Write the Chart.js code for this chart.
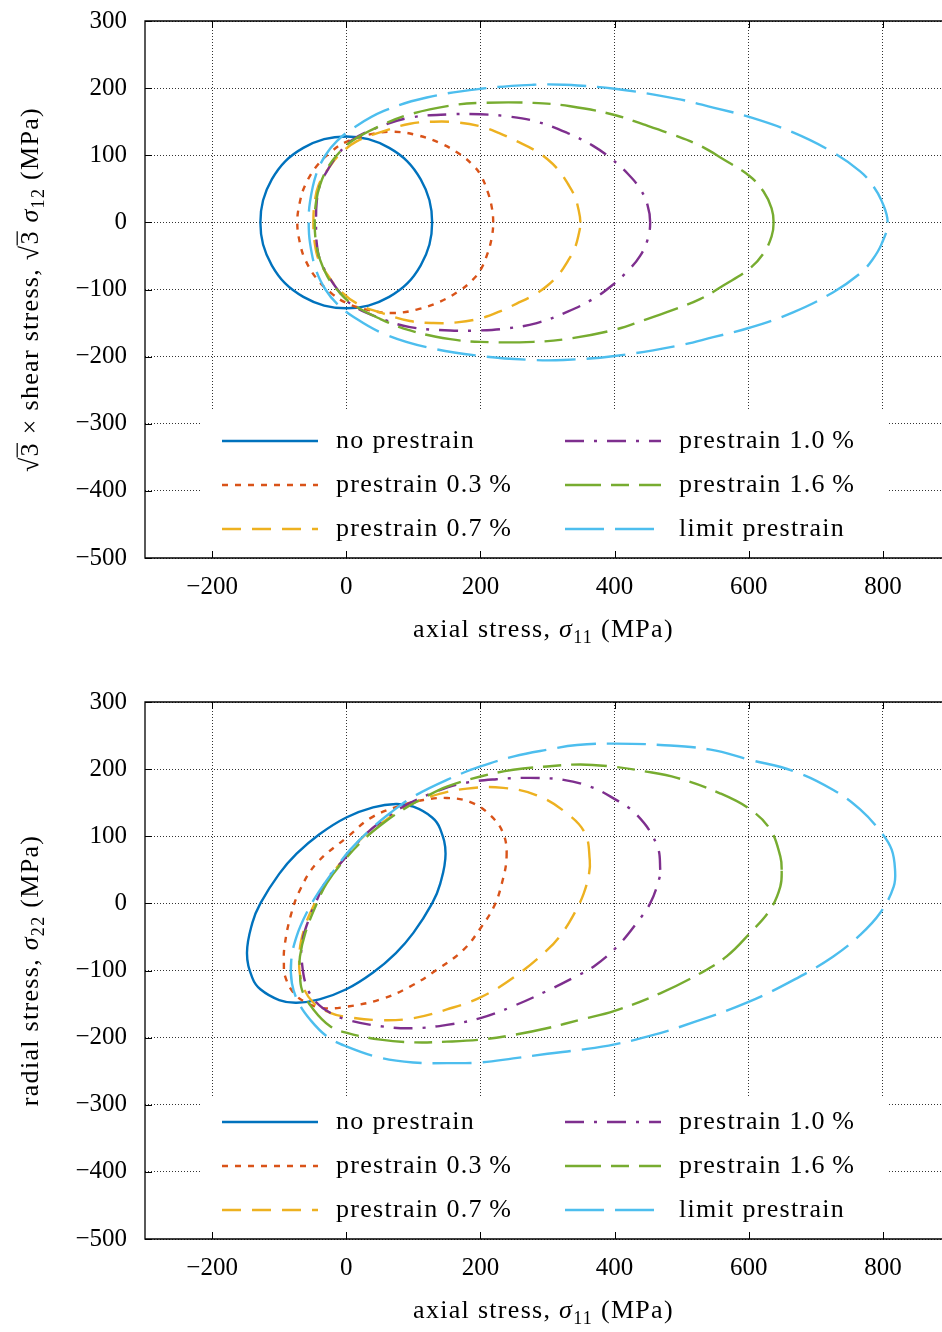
<!DOCTYPE html>
<html>
<head>
<meta charset="utf-8">
<script src="https://cdn.jsdelivr.net/npm/chart.js@4.4.1/dist/chart.umd.min.js"></script>
<style>
  html, body { margin: 0; padding: 0; background: #fff; }
  .plot { width: 942px; height: 666px; }
  canvas { display: block; }
</style>
</head>
<body>
<div class="plot"><canvas id="shear" width="942" height="666"></canvas></div>
<div class="plot"><canvas id="radial" width="942" height="666"></canvas></div>
<script>
const xTicks = [-200, 0, 200, 400, 600, 800];
const yTicks = [-500, -400, -300, -200, -100, 0, 100, 200, 300];

const seriesNames = ['no prestrain', 'prestrain 0.3\u2009%', 'prestrain 0.7\u2009%',
                     'prestrain 1.0\u2009%', 'prestrain 1.6\u2009%', 'limit prestrain'];
const seriesColors = ['#0072BD', '#D95319', '#EDB120', '#7E2F8E', '#77AC30', '#4DBEEE'];
const seriesDashes = [[], [6, 7], [19, 11], [19, 10, 3, 10], [36, 10, 18, 10], [39, 11]];

// yield surfaces in the sigma11 / sqrt(3) sigma12 plane, [sigma11, sqrt3*sigma12] in MPa
const shearNone = [[128,0],[124,33],[111,64],[91,91],[64,111],[33,124],[0,128],[-33,124],[-64,111],
  [-91,91],[-111,64],[-124,33],[-128,0],[-124,-33],[-111,-64],[-91,-91],[-64,-111],[-33,-124],[0,-128],
  [33,-124],[64,-111],[91,-91],[111,-64],[124,-33]];
const shearP03 = [[219,0],[217,22],[211,45],[200,71],[188,86],[170,101],[140,118],[105,130],[70,135],
  [35,131],[0,120],[-24,104],[-44,84],[-61,56],[-69,31],[-73,0],[-69,-31],[-61,-56],[-44,-84],[-24,-104],
  [0,-120],[35,-131],[70,-135],[105,-130],[140,-118],[170,-101],[188,-86],[200,-71],[211,-45],[217,-22]];
const shearP07 = [[349,0],[346,20],[340,40],[330,58],[318,76],[300,94],[280,108],[254,121],[228,133],
  [200,143],[165,149],[130,150],[95,147],[56,136],[16,121],[-11,100],[-26,81],[-41,56],[-47,31],[-49,0],
  [-47,-31],[-41,-56],[-26,-81],[-11,-100],[16,-121],[56,-136],[95,-147],[130,-150],[165,-149],[200,-143],
  [228,-133],[254,-121],[280,-108],[300,-94],[318,-76],[330,-58],[340,-40],[346,-20]];
const shearP10 = [[453,0],[449,26],[438,50],[420,72],[396,94],[368,114],[330,133],[284,150],[240,158],
  [200,161],[155,161],[95,156],[46,141],[6,121],[-13,100],[-26,81],[-39,56],[-44,31],[-45,0],
  [-44,-31],[-39,-56],[-26,-81],[-13,-100],[6,-121],[46,-141],[95,-156],[155,-161],[200,-161],[240,-158],
  [284,-150],[330,-133],[368,-114],[396,-94],[420,-72],[438,-50],[449,-26]];
const shearP16 = [[637,0],[634,21],[622,46],[601,69],[562,94],[528,114],[483,132],[443,146],[400,160],
  [334,173],[279,178],[200,178],[155,174],[95,161],[51,144],[8,121],[-14,100],[-28,81],[-39,56],[-45,31],
  [-47,0],[-45,-31],[-39,-56],[-28,-81],[-14,-100],[8,-121],[51,-144],[95,-161],[155,-174],[200,-178],
  [279,-178],[334,-173],[400,-160],[443,-146],[483,-132],[528,-114],[562,-94],[601,-69],[622,-46],[634,-21]];
const shearLimit = [[807,0],[798,32],[784,56],[766,76],[726,104],[666,134],[601,157],[547,171],[493,184],
  [400,199],[324,205],[279,205],[200,199],[120,186],[56,166],[11,141],[-14,121],[-31,100],[-45,71],[-54,31],
  [-56,0],[-54,-31],[-45,-71],[-31,-100],[-14,-121],[11,-141],[56,-166],[120,-186],[200,-199],[279,-205],
  [324,-205],[400,-199],[493,-184],[547,-171],[601,-157],[666,-134],[726,-104],[766,-76],[784,-56],[798,-32]];

// yield surfaces in the sigma11 / sigma22 plane, [sigma11, sigma22] in MPa
const radialNone = [[128,0],[140,29],[148,74],[140,111],[128,128],[100,144],[74,148],[40,143],[0,128],
  [-40,103],[-74,74],[-100,44],[-128,0],[-140,-29],[-148,-74],[-140,-111],[-128,-128],[-100,-144],
  [-74,-148],[-40,-143],[0,-128],[40,-103],[74,-74],[100,-44]];
const radialP03 = [[239,70],[234,104],[215,131],[185,151],[150,157],[115,154],[76,144],[36,127],[3,100],
  [-44,60],[-69,20],[-83,-19],[-92,-64],[-93,-89],[-91,-109],[-78,-134],[-59,-148],[-34,-156],[0,-154],
  [51,-143],[95,-124],[135,-99],[175,-69],[200,-37],[220,-5],[232,30]];
const radialP07 = [[363,64],[356,104],[329,134],[284,161],[234,172],[180,171],[125,159],[85,142],[56,122],
  [26,100],[0,70],[-24,40],[-47,0],[-63,-39],[-70,-79],[-66,-119],[-49,-148],[-24,-163],[0,-169],[51,-174],
  [100,-171],[150,-158],[200,-140],[250,-110],[300,-69],[322,-44],[340,-15],[354,15],[362,45]];
const radialP10 = [[468,50],[463,87],[433,132],[394,159],[363,174],[324,184],[274,187],[224,185],[175,179],
  [135,167],[90,147],[56,125],[26,100],[-4,65],[-29,35],[-46,0],[-56,-24],[-66,-59],[-66,-89],[-59,-124],
  [-44,-148],[-24,-163],[0,-173],[51,-183],[100,-186],[150,-181],[200,-171],[249,-153],[300,-130],[340,-110],
  [369,-94],[404,-64],[433,-29],[453,0],[466,35]];
const radialP16 = [[649,50],[647,70],[632,110],[602,140],[557,164],[493,187],[443,197],[394,204],[349,207],
  [299,204],[249,199],[200,189],[150,174],[115,157],[85,140],[56,120],[26,95],[-4,63],[-29,30],[-46,-5],
  [-61,-44],[-69,-79],[-69,-100],[-66,-129],[-49,-158],[-24,-183],[1,-193],[51,-203],[100,-207],[150,-206],
  [200,-203],[249,-196],[299,-186],[350,-173],[400,-160],[468,-134],[528,-104],[567,-79],[602,-44],[632,-9],
  [647,25]];
const radialLimit = [[818,50],[813,80],[798,105],[766,140],[726,169],[667,197],[601,214],[543,229],[468,236],
  [400,238],[344,236],[300,229],[250,219],[200,204],[150,184],[100,159],[66,135],[36,110],[6,80],[-14,55],
  [-39,20],[-59,-14],[-74,-49],[-82,-85],[-81,-119],[-71,-148],[-54,-173],[-29,-198],[0,-213],[51,-230],
  [100,-237],[150,-238],[200,-237],[249,-231],[300,-224],[350,-218],[400,-210],[458,-196],[518,-177],
  [597,-148],[667,-114],[726,-79],[766,-47],[796,-14],[816,25]];

// axis titles as [text, style] runs: r roman, i italic, s subscript, v digit under a radical bar
const xTitle = [['axial stress, ', 'r'], ['\u03C3', 'i'], ['11', 's'], [' (MPa)', 'r']];
const shearTitle = [['\u221A', 'r'], ['3', 'v'], [' \u00D7 shear stress, ', 'r'], ['\u221A', 'r'], ['3', 'v'],
  [' ', 'r'], ['\u03C3', 'i'], ['12', 's'], [' (MPa)', 'r']];
const radialTitle = [['radial stress, ', 'r'], ['\u03C3', 'i'], ['22', 's'], [' (MPa)', 'r']];

const SERIF = '"Liberation Serif", "DejaVu Serif", serif';

function drawRich(ctx, parts, cx, baseline, size) {
  const fontOf = st => (st === 'i' ? 'italic ' : '') + (st === 's' ? Math.round(size * 0.7) : size) + 'px ' + SERIF;
  ctx.letterSpacing = '1.3px';
  const widths = parts.map(([t, st]) => { ctx.font = fontOf(st); return ctx.measureText(t).width; });
  let x = cx - widths.reduce((a, b) => a + b, 0) / 2;
  ctx.fillStyle = '#000';
  ctx.textBaseline = 'alphabetic';
  ctx.textAlign = 'left';
  parts.forEach(([t, st], k) => {
    ctx.font = fontOf(st);
    ctx.fillText(t, x, baseline + (st === 's' ? size * 0.22 : 0));
    if (st === 'v') {
      ctx.lineWidth = 1.2;
      ctx.strokeStyle = '#000';
      ctx.beginPath();
      ctx.moveTo(x - 1, baseline - size * 0.8);
      ctx.lineTo(x + widths[k] - 1, baseline - size * 0.8);
      ctx.stroke();
    }
    x += widths[k];
  });
  ctx.letterSpacing = '0px';
}

// every curve is a closed contour: let the line element wrap around
const closedCurves = {
  id: 'closedCurves',
  afterDatasetUpdate(chart, { meta }) {
    const line = meta.dataset;
    if (!line) return;
    line._loop = true;
    line._fullLoop = true;
    line.points = meta.data;
  }
};

const framePlugin = {
  id: 'frame',
  afterDatasetsDraw(chart, args, opts) {
    const { ctx, chartArea: a } = chart;
    ctx.save();
    // legend panel sits inside the axes and hides the grid below it
    ctx.fillStyle = '#fff';
    ctx.fillRect(202, a.top + opts.legendTop, 889 - 202, a.bottom - a.top - opts.legendTop);
    chart.data.datasets.forEach((ds, i) => {
      const x0 = i < 3 ? 222 : 565;
      const y = a.top + 420 + (i % 3) * 44;
      ctx.strokeStyle = ds.borderColor;
      ctx.lineWidth = 2.6;
      ctx.lineCap = 'butt';
      ctx.setLineDash(ds.borderDash);
      ctx.beginPath();
      ctx.moveTo(x0, y);
      ctx.lineTo(x0 + 96, y);
      ctx.stroke();
      ctx.setLineDash([]);
      ctx.fillStyle = '#000';
      ctx.font = '26px ' + SERIF;
      ctx.letterSpacing = '1.3px';
      ctx.textBaseline = 'alphabetic';
      ctx.fillText(ds.label, x0 + 114, y + 7);
      ctx.letterSpacing = '0px';
    });
    // box and inward tick marks
    ctx.strokeStyle = '#000';
    ctx.lineWidth = 1.3;
    ctx.beginPath();
    ctx.moveTo(a.right + 2, a.top);
    ctx.lineTo(a.left, a.top);
    ctx.lineTo(a.left, a.bottom);
    ctx.lineTo(a.right + 2, a.bottom);
    ctx.stroke();
    ctx.lineWidth = 1;
    ctx.beginPath();
    xTicks.forEach(v => {
      const px = Math.round(chart.scales.x.getPixelForValue(v)) + 0.5;
      ctx.moveTo(px, a.top); ctx.lineTo(px, a.top + 7);
      ctx.moveTo(px, a.bottom); ctx.lineTo(px, a.bottom - 7);
    });
    yTicks.forEach(v => {
      const py = Math.round(chart.scales.y.getPixelForValue(v)) + 0.5;
      ctx.moveTo(a.left, py); ctx.lineTo(a.left + 7, py);
    });
    ctx.stroke();
    ctx.restore();
  },
  afterDraw(chart, args, opts) {
    const { ctx, chartArea: a } = chart;
    ctx.save();
    drawRich(ctx, xTitle, (a.left + a.right) / 2, a.bottom + 79, 26);
    ctx.translate(38, (a.top + a.bottom) / 2);
    ctx.rotate(-Math.PI / 2);
    drawRich(ctx, opts.yTitle, 0, 0, 26);
    ctx.restore();
  }
};

const minus = v => (v < 0 ? '\u2212' + Math.abs(v) : String(v));

function sectionChart(canvas, curves, layout) {
  const datasets = curves.map((pts, i) => ({
    label: seriesNames[i],
    data: pts.map(([x, y]) => ({ x, y })),
    borderColor: seriesColors[i],
    borderDash: seriesDashes[i],
    borderWidth: 2.4,
    pointRadius: 0,
    tension: 0.4,
    fill: false,
    order: -i,
  }));

  const tickFont = { family: SERIF, size: 25 };
  return new Chart(canvas, {
    type: 'line',
    data: { datasets },
    plugins: [closedCurves, framePlugin],
    options: {
      responsive: false,
      animation: false,
      devicePixelRatio: 1,
      layout: { padding: { top: layout.top, left: 0, right: 0, bottom: 0 } },
      plugins: {
        legend: { display: false },
        tooltip: { enabled: false },
        frame: { legendTop: layout.legendTop, yTitle: layout.yTitle },
      },
      scales: {
        x: {
          type: 'linear',
          min: -300,
          max: 888,
          afterBuildTicks: s => { s.ticks = xTicks.map(value => ({ value })); },
          afterFit: s => { s.height = layout.xHeight; s.paddingLeft = 0; s.paddingRight = 0; },
          ticks: { font: tickFont, color: '#000', padding: 14, maxRotation: 0, autoSkip: false, callback: minus },
          grid: { color: '#333', lineWidth: 1, drawTicks: false },
          border: { display: false, dash: [1, 2] },
        },
        y: {
          type: 'linear',
          min: -500,
          max: 300,
          afterBuildTicks: s => { s.ticks = yTicks.map(value => ({ value })); },
          afterFit: s => { s.width = 145; s.paddingTop = 0; s.paddingBottom = 0; },
          ticks: { font: tickFont, color: '#000', padding: 18, autoSkip: false, callback: minus },
          grid: { color: '#333', lineWidth: 1, drawTicks: false },
          border: { display: false, dash: [1, 2] },
        },
      },
    },
  });
}

sectionChart(document.getElementById('shear'),
  [shearNone, shearP03, shearP07, shearP10, shearP16, shearLimit],
  { top: 21, xHeight: 108, legendTop: 389, yTitle: shearTitle });

sectionChart(document.getElementById('radial'),
  [radialNone, radialP03, radialP07, radialP10, radialP16, radialLimit],
  { top: 36, xHeight: 93, legendTop: 396, yTitle: radialTitle });
</script>
</body>
</html>
